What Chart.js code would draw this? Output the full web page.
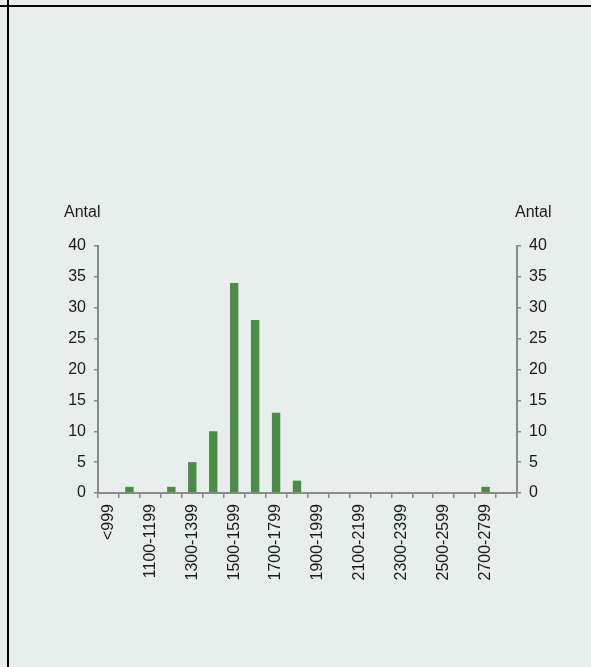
<!DOCTYPE html>
<html>
<head>
<meta charset="utf-8">
<script src="https://cdn.jsdelivr.net/npm/chart.js@4.4.0/dist/chart.umd.min.js"></script>
<style>
  html, body { margin: 0; padding: 0; background: #e8eeeb; }
  body { width: 591px; height: 667px; position: relative; overflow: hidden; font-family: "Liberation Sans", Arial, sans-serif; }
  #wrap { position: absolute; left: 0; top: 0; width: 591px; height: 667px; }
  .hline { position: absolute; left: 0; top: 5px; width: 591px; height: 2px; background: #000; }
  .vline { position: absolute; left: 7px; top: 0; width: 2px; height: 667px; background: #000; }
  .ytitle { position: absolute; top: 203px; font-size: 16px; color: #1a1a1a; }
</style>
</head>
<body>
<div id="wrap"><canvas id="chart" width="591" height="667"></canvas></div>
<div class="hline"></div>
<div class="vline"></div>
<div class="ytitle" style="left:64px">Antal</div>
<div class="ytitle" style="left:515px">Antal</div>
<script>
// Antal per intervall
const categories = [
  '<999', '1000-1099', '1100-1199', '1200-1299', '1300-1399', '1400-1499',
  '1500-1599', '1600-1699', '1700-1799', '1800-1899', '1900-1999', '2000-2099',
  '2100-2199', '2200-2299', '2300-2399', '2400-2499', '2500-2599', '2600-2699',
  '2700-2799', '2800-2899'
];
const counts = [0, 1, 0, 1, 5, 10, 34, 28, 13, 2, 0, 0, 0, 0, 0, 0, 0, 0, 1, 0];
const yTicks = [0, 5, 10, 15, 20, 25, 30, 35, 40];

const axisColor = '#8a8a8a';
const textColor = '#1a1a1a';
Chart.defaults.font.family = '"Liberation Sans", Arial, sans-serif';
Chart.defaults.font.size = 16;
Chart.defaults.color = textColor;

const yAxis = (pos, width) => ({
  position: pos,
  min: yTicks[0],
  max: yTicks[yTicks.length - 1],
  display: true,
  afterFit: s => { s.width = width; },
  afterBuildTicks: s => { s.ticks = yTicks.map(v => ({ value: v })); },
  grid: { drawOnChartArea: false, drawTicks: true, tickLength: 4, color: axisColor, lineWidth: 1.5 },
  border: { color: axisColor, width: 2 },
  ticks: { padding: 8, color: textColor },
});

new Chart(document.getElementById('chart'), {
  type: 'bar',
  data: {
    labels: categories,
    datasets: [{
      data: counts,
      backgroundColor: '#4c8c48',
      barPercentage: 0.4,
      categoryPercentage: 1,
      yAxisID: 'y',
    }],
  },
  options: {
    responsive: false,
    animation: false,
    layout: { padding: { top: 246, left: 0, right: 0, bottom: 0 } },
    plugins: { legend: { display: false }, tooltip: { enabled: false } },
    scales: {
      x: {
        afterFit: s => { s.height = 174; },
        grid: { offset: true, drawOnChartArea: false, drawTicks: true, tickLength: 5, color: axisColor, lineWidth: 1.5 },
        border: { color: axisColor, width: 2 },
        ticks: {
          autoSkip: false, minRotation: 90, maxRotation: 90, padding: 6, color: textColor,
          callback: (v, i) => i % 2 === 0 ? categories[i] : '',
        },
      },
      y: yAxis('left', 98),
      y2: yAxis('right', 74),
    },
  },
});
</script>
</body>
</html>
